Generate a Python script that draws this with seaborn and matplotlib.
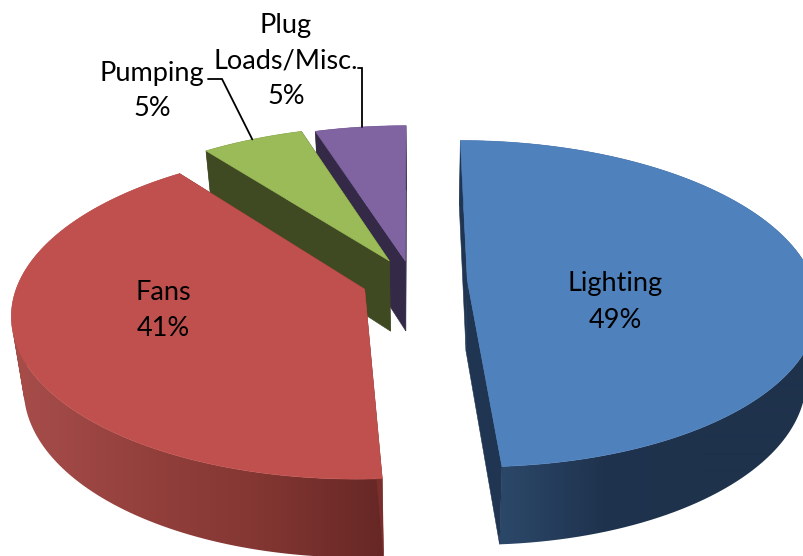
import numpy as np
import matplotlib
matplotlib.use("Agg")
import matplotlib.pyplot as plt
import matplotlib.colors as mc
from matplotlib.path import Path
from matplotlib.patches import PathPatch
import seaborn as sns

categories = ["Lighting", "Fans", "Pumping", "Plug\nLoads/Misc."]
shares = [49.0, 40.6, 5.5, 4.9]
percent_labels = ["49%", "41%", "5%", "5%"]

top_colors = ["#4f81bd", "#c0504d", "#9bbb59", "#8064a2"]
inner_colors = ["#1f3552", "#7a2f2c", "#3f4a22", "#342a48"]
wall_ramps = [
    ["#2b4768", "#1f334e", "#1f324c", "#1f324c"],
    ["#a64d4a", "#94403d", "#823632", "#662725"],
    ["#3f4a22"] * 4,
    ["#342a48"] * 4,
]
ramp_span = [(505, 800), (20, 387), (200, 310), (315, 410)]
explode = [0.16, 0.145, 0.144, 0.13]
label_xy = [(615, 302), (163, 311), (152, 91), (286, 61)]

CX, CY, BX, AY, K = 412.0, 281.0, 346.0, 160.0, 0.144
WALL, KW, XV, Q = 71.0, 0.09, 425.0, 0.03

sns.set_theme(style="white")
plt.rcParams["font.family"] = ["Lato", "DejaVu Sans"]
fig = plt.figure(figsize=(8.04, 5.56), dpi=100)
ax = fig.add_axes([0, 0, 1, 1])
ax.axis("off")


def top_pt(X, Y):
    w = 1 + K * Y
    return CX + BX * X / w, CY - AY * Y / w


def low_pt(X, Y):
    x, y = top_pt(X, Y)
    return XV + (x - XV) * (1 - Q), y + WALL / (1 + KW * Y)


def wall_path(upper, lower):
    """Union of same-orientation quads, so the fill survives the silhouette."""
    verts, codes = [], []
    for j in range(len(upper) - 1):
        q = [upper[j], upper[j + 1], lower[j + 1], lower[j]]
        qx, qy = np.array(q).T
        if np.dot(qx, np.roll(qy, -1)) - np.dot(qy, np.roll(qx, -1)) < 0:
            q = q[::-1]
        verts += q + [q[0]]
        codes += [Path.MOVETO, Path.LINETO, Path.LINETO, Path.LINETO, Path.CLOSEPOLY]
    return Path(verts, codes)


fracs = np.array(shares, dtype=float) / sum(shares)
edges = np.concatenate([[0], np.cumsum(fracs)]) * 2 * np.pi
pixel_x = np.arange(804) + 0.5

order = [3, 2, 1, 0]
arc_mid = {}
for i in order:
    z = order.index(i) * 3
    a0, a1 = edges[i], edges[i + 1]
    mid = (a0 + a1) / 2
    ox, oy = explode[i] * np.sin(mid), explode[i] * np.cos(mid)
    th = np.linspace(a0, a1, 120)
    arc_X, arc_Y = ox + np.sin(th), oy + np.cos(th)
    arc_mid[i] = top_pt(ox + np.sin(mid), oy + np.cos(mid))

    # outer wall: horizontal gradient clipped to the wall outline
    upper = [top_pt(u, v) for u, v in zip(arc_X, arc_Y)]
    lower = [low_pt(u, v) for u, v in zip(arc_X, arc_Y)]
    outline = PathPatch(wall_path(upper, lower), transform=ax.transData,
                        fc="none", ec="none")
    ax.add_patch(outline)
    cmap = mc.LinearSegmentedColormap.from_list("r", wall_ramps[i])
    x0, x1 = ramp_span[i]
    ramp = np.clip((pixel_x - x0) / (x1 - x0), 0, 1)
    im = ax.imshow(ramp[None, :], cmap=cmap, vmin=0, vmax=1, aspect="auto",
                   extent=(0, 804, 556, 0), zorder=1 + z, interpolation="bilinear")
    im.set_clip_path(outline)

    # two cut faces
    for a in (a0, a1):
        ex, ey = ox + np.sin(a), oy + np.cos(a)
        p = [top_pt(ox, oy), top_pt(ex, ey), low_pt(ex, ey), low_pt(ox, oy)]
        xs, ys = zip(*p)
        ax.fill(xs, ys, color=inner_colors[i], lw=0.4, zorder=2 + z)

    # top face
    pts = [top_pt(ox, oy)] + upper
    xs, ys = zip(*pts)
    ax.fill(xs, ys, color=top_colors[i], lw=0.4, zorder=3 + z)

# leader lines
gx, gy = arc_mid[2]
ax.plot([208, 222, gx], [79, 79, gy], color="black", lw=1.3, zorder=30, solid_joinstyle="miter")
px, py = arc_mid[3]
ax.plot([358, px + 2, px + 2], [68, 68, py], color="black", lw=1.3, zorder=30, solid_joinstyle="miter")

for name, pct, (x, y) in zip(categories, percent_labels, label_xy):
    ax.text(x, y, f"{name}\n{pct}", ha="center", va="center", fontsize=19.5,
            color="black", linespacing=1.55, zorder=40)

ax.set_xlim(0, 804)
ax.set_ylim(556, 0)
fig.savefig("out.png", dpi=100)
